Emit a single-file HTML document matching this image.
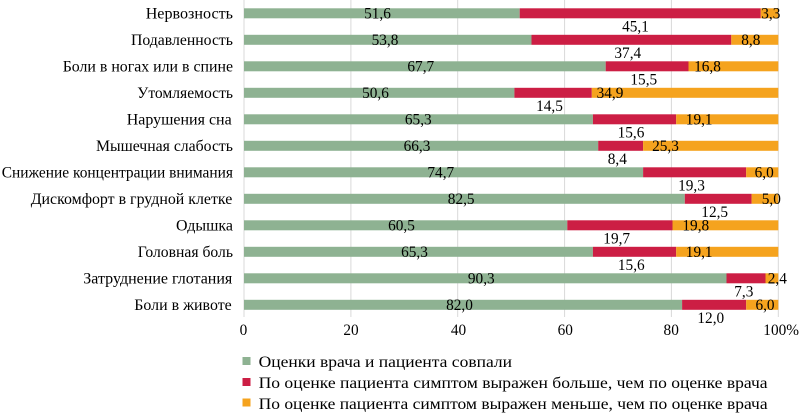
<!DOCTYPE html>
<html><head><meta charset="utf-8"><style>
html,body{margin:0;padding:0;background:#fff;}
svg{display:block;}
text{font-family:"Liberation Serif","Times New Roman",serif;fill:#000;}
.c{font-size:16.2px;}
.d{font-size:15.3px;text-anchor:middle;}
.t{font-size:15.3px;text-anchor:middle;}
.l{font-size:16.2px;}
</style></head><body>
<svg width="800" height="420" viewBox="0 0 800 420" xmlns="http://www.w3.org/2000/svg" font-family="Liberation Serif, serif">
<g stroke="#d9d9d9" stroke-width="1">
<line x1="244" y1="0" x2="244" y2="317"/>
<line x1="350.9" y1="0" x2="350.9" y2="317"/>
<line x1="457.7" y1="0" x2="457.7" y2="317"/>
<line x1="564.6" y1="0" x2="564.6" y2="317"/>
<line x1="671.4" y1="0" x2="671.4" y2="317"/>
<line x1="778.3" y1="0" x2="778.3" y2="317"/>
</g>
<g>
<rect x="244" y="8.3" width="275.7" height="10" fill="#8eb292"/><rect x="519.7" y="8.3" width="241" height="10" fill="#cc1e44"/><rect x="760.7" y="8.3" width="17.6" height="10" fill="#f5a31e"/>
<rect x="244" y="34.8" width="287.5" height="10" fill="#8eb292"/><rect x="531.5" y="34.8" width="199.8" height="10" fill="#cc1e44"/><rect x="731.3" y="34.8" width="47" height="10" fill="#f5a31e"/>
<rect x="244" y="61.3" width="361.7" height="10" fill="#8eb292"/><rect x="605.7" y="61.3" width="82.8" height="10" fill="#cc1e44"/><rect x="688.5" y="61.3" width="89.8" height="10" fill="#f5a31e"/>
<rect x="244" y="87.8" width="270.4" height="10" fill="#8eb292"/><rect x="514.4" y="87.8" width="77.4" height="10" fill="#cc1e44"/><rect x="591.8" y="87.8" width="186.5" height="10" fill="#f5a31e"/>
<rect x="244" y="114.3" width="348.9" height="10" fill="#8eb292"/><rect x="592.9" y="114.3" width="83.3" height="10" fill="#cc1e44"/><rect x="676.2" y="114.3" width="102.1" height="10" fill="#f5a31e"/>
<rect x="244" y="140.8" width="354.2" height="10" fill="#8eb292"/><rect x="598.2" y="140.8" width="44.9" height="10" fill="#cc1e44"/><rect x="643.1" y="140.8" width="135.2" height="10" fill="#f5a31e"/>
<rect x="244" y="167.3" width="399.1" height="10" fill="#8eb292"/><rect x="643.1" y="167.3" width="103.1" height="10" fill="#cc1e44"/><rect x="746.2" y="167.3" width="32.1" height="10" fill="#f5a31e"/>
<rect x="244" y="193.8" width="440.8" height="10" fill="#8eb292"/><rect x="684.8" y="193.8" width="66.8" height="10" fill="#cc1e44"/><rect x="751.6" y="193.8" width="26.7" height="10" fill="#f5a31e"/>
<rect x="244" y="220.3" width="323.3" height="10" fill="#8eb292"/><rect x="567.3" y="220.3" width="105.2" height="10" fill="#cc1e44"/><rect x="672.5" y="220.3" width="105.8" height="10" fill="#f5a31e"/>
<rect x="244" y="246.8" width="348.9" height="10" fill="#8eb292"/><rect x="592.9" y="246.8" width="83.3" height="10" fill="#cc1e44"/><rect x="676.2" y="246.8" width="102.1" height="10" fill="#f5a31e"/>
<rect x="244" y="273.3" width="482.5" height="10" fill="#8eb292"/><rect x="726.5" y="273.3" width="39" height="10" fill="#cc1e44"/><rect x="765.5" y="273.3" width="12.8" height="10" fill="#f5a31e"/>
<rect x="244" y="299.8" width="438.1" height="10" fill="#8eb292"/><rect x="682.1" y="299.8" width="64.1" height="10" fill="#cc1e44"/><rect x="746.2" y="299.8" width="32.1" height="10" fill="#f5a31e"/>
</g>
<g class="c">
<text x="145.7" y="18.3" textLength="87.3" lengthAdjust="spacingAndGlyphs">Нервозность</text>
<text x="131" y="44.8" textLength="102" lengthAdjust="spacingAndGlyphs">Подавленность</text>
<text x="62.7" y="71.3" textLength="170.3" lengthAdjust="spacingAndGlyphs">Боли в ногах или в спине</text>
<text x="137.3" y="97.8" textLength="95.7" lengthAdjust="spacingAndGlyphs">Утомляемость</text>
<text x="126.7" y="124.3" textLength="105" lengthAdjust="spacingAndGlyphs">Нарушения сна</text>
<text x="96" y="150.8" textLength="137" lengthAdjust="spacingAndGlyphs">Мышечная слабость</text>
<text x="1.7" y="177.3" textLength="231.3" lengthAdjust="spacingAndGlyphs">Снижение концентрации внимания</text>
<text x="30.7" y="203.8" textLength="201.6" lengthAdjust="spacingAndGlyphs">Дискомфорт в грудной клетке</text>
<text x="176" y="230.3" textLength="57" lengthAdjust="spacingAndGlyphs">Одышка</text>
<text x="137.7" y="256.8" textLength="95.3" lengthAdjust="spacingAndGlyphs">Головная боль</text>
<text x="83.3" y="283.3" textLength="149" lengthAdjust="spacingAndGlyphs">Затруднение глотания</text>
<text x="134.3" y="309.8" textLength="97.4" lengthAdjust="spacingAndGlyphs">Боли в животе</text>
</g>
<g class="d">
<text x="377.5" y="18.3">51,6</text><text x="635.5" y="31.7">45,1</text><text x="770.8" y="18.3">3,3</text>
<text x="385" y="44.8">53,8</text><text x="627.8" y="58.2">37,4</text><text x="750.8" y="44.8">8,8</text>
<text x="420.8" y="71.3">67,7</text><text x="643.8" y="84.7">15,5</text><text x="707.5" y="71.3">16,8</text>
<text x="375.5" y="97.8">50,6</text><text x="549.5" y="111.2">14,5</text><text x="610" y="97.8">34,9</text>
<text x="418.3" y="124.3">65,3</text><text x="631" y="137.7">15,6</text><text x="699.2" y="124.3">19,1</text>
<text x="417" y="150.8">66,3</text><text x="617.3" y="164.2">8,4</text><text x="665.5" y="150.8">25,3</text>
<text x="440.8" y="177.3">74,7</text><text x="691.5" y="190.7">19,3</text><text x="764.2" y="177.3">6,0</text>
<text x="461.2" y="203.8">82,5</text><text x="714.7" y="217.2">12,5</text><text x="771.3" y="203.8">5,0</text>
<text x="401.5" y="230.3">60,5</text><text x="616.7" y="243.7">19,7</text><text x="695.8" y="230.3">19,8</text>
<text x="414.5" y="256.8">65,3</text><text x="631.3" y="270.2">15,6</text><text x="699.2" y="256.8">19,1</text>
<text x="481.3" y="283.3">90,3</text><text x="743.8" y="296.7">7,3</text><text x="777.3" y="283.3">2,4</text>
<text x="459.5" y="309.8">82,0</text><text x="710.8" y="323.2">12,0</text><text x="765" y="309.8">6,0</text>
</g>
<g class="t">
<text x="243.5" y="335">0</text>
<text x="351" y="335">20</text>
<text x="458.5" y="335">40</text>
<text x="565.3" y="335">60</text>
<text x="671.2" y="335">80</text>
<text x="763.3" y="335" style="text-anchor:start">100%</text>
</g>
<rect x="242.5" y="357" width="8" height="8" fill="#8eb292"/>
<rect x="242.5" y="378" width="8" height="8" fill="#cc1e44"/>
<rect x="242.5" y="398.5" width="8" height="8" fill="#f5a31e"/>
<g class="l">
<text x="258.6" y="367" textLength="253.4" lengthAdjust="spacingAndGlyphs">Оценки врача и пациента совпали</text>
<text x="258.6" y="388" textLength="509" lengthAdjust="spacingAndGlyphs">По оценке пациента симптом выражен больше, чем по оценке врача</text>
<text x="258.6" y="409" textLength="509" lengthAdjust="spacingAndGlyphs">По оценке пациента симптом выражен меньше, чем по оценке врача</text>
</g>
</svg>
</body></html>
